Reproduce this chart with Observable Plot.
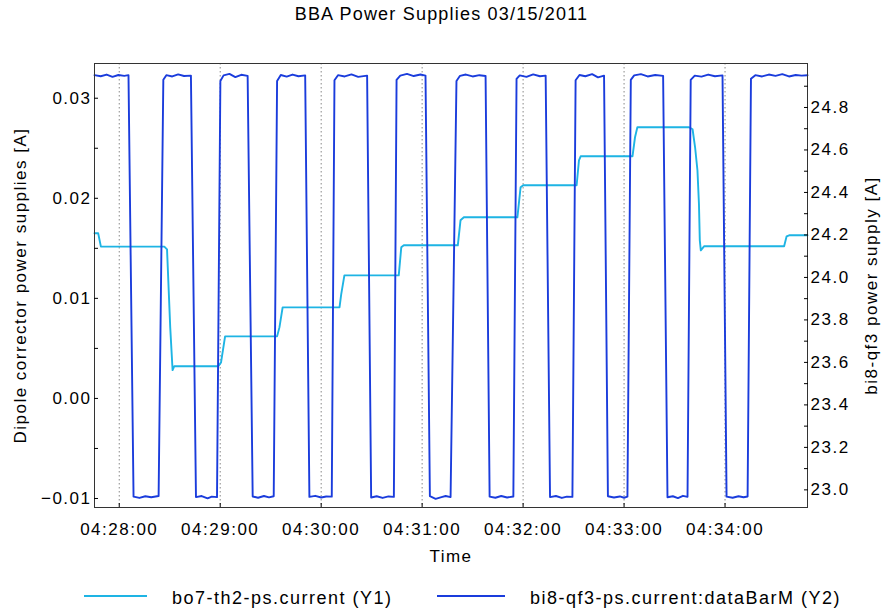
<!DOCTYPE html>
<html><head><meta charset="utf-8">
<script src="https://cdn.jsdelivr.net/npm/d3@7"></script>
<script src="https://cdn.jsdelivr.net/npm/@observablehq/plot@0.6"></script>
<style>
body{margin:0;background:#fff;font-family:"Liberation Sans",Arial,sans-serif;color:#000;}
#wrap{position:relative;width:883px;height:613px;overflow:hidden;}
#title{position:absolute;top:4px;left:0;width:883px;text-align:center;font-size:18px;letter-spacing:1.2px;line-height:20px;}
#chart{position:absolute;top:0;left:0;}
#chart svg text{letter-spacing:1.5px;}
.leg{position:absolute;top:588px;font-size:18px;letter-spacing:1.5px;line-height:20px;white-space:nowrap;}
.sw{position:absolute;height:2px;top:595px;}
</style></head>
<body>
<div id="wrap">
  <div id="title">BBA Power Supplies 03/15/2011</div>
  <div id="chart"></div>
  <div class="sw" style="left:84px;width:63px;background:#1eb4e4"></div>
  <div class="leg" style="left:172px">bo7-th2-ps.current (Y1)</div>
  <div class="sw" style="left:437px;width:68px;background:#1a3cdc"></div>
  <div class="leg" style="left:530px">bi8-qf3-ps.current:dataBarM (Y2)</div>
</div>
<script>
// ---- data ----
const xTickTimes = ["04:28:00","04:29:00","04:30:00","04:31:00","04:32:00","04:33:00","04:34:00"];
const y1Ticks = [-0.01, 0.00, 0.01, 0.02, 0.03];
const y1Minor = [-0.005, 0.005, 0.015, 0.025];
const y2Ticks = [23.0, 23.2, 23.4, 23.6, 23.8, 24.0, 24.2, 24.4, 24.6, 24.8];
const y2Minor = [23.1, 23.3, 23.5, 23.7, 23.9, 24.1, 24.3, 24.5, 24.7, 24.9];
const y1Domain = [-0.0109, 0.03347];
const y2Domain = [22.917, 25.007];
const xDomain = ["04:27:45.3", "04:34:49.0"];

const th2Times = ["04:27:45.3","04:27:47.5","04:27:49.1","04:28:26.8","04:28:28.4","04:28:30.3","04:28:31.7","04:28:32.7","04:28:58.9","04:29:00.5","04:29:02.9","04:29:04.4","04:29:33.8","04:29:35.2","04:29:37.1","04:30:10.9","04:30:11.9","04:30:13.8","04:30:46.1","04:30:47.6","04:30:49.1","04:31:21.2","04:31:22.8","04:31:24.8","04:31:56.6","04:31:58.5","04:32:00.1","04:32:31.8","04:32:33.2","04:32:34.2","04:33:05.0","04:33:06.5","04:33:07.9","04:33:38.6","04:33:40.7","04:33:42.2","04:33:43.6","04:33:44.5","04:33:45.0","04:33:45.6","04:33:47.5","04:34:35.1","04:34:36.6","04:34:38.1","04:34:49.0"];
const th2Values = [0.0165,0.0165,0.01517,0.01517,0.0149,0.0071,0.00283,0.00322,0.00322,0.0036,0.0062,0.0062,0.0062,0.0071,0.0091,0.0091,0.0104,0.0123,0.0123,0.0151,0.0153,0.0153,0.0178,0.0181,0.0181,0.0211,0.0213,0.0213,0.0238,0.0242,0.0242,0.0261,0.0271,0.0271,0.0269,0.0251,0.0228,0.0194,0.0158,0.0148,0.0152,0.0152,0.0162,0.0163,0.0163];

const qf3Times = ["04:27:45.3","04:27:49.0","04:27:52.5","04:27:56.0","04:27:59.5","04:28:03.0","04:28:05.5","04:28:08.5","04:28:12.0","04:28:15.5","04:28:19.0","04:28:23.4","04:28:26.2","04:28:28.0","04:28:31.5","04:28:35.0","04:28:38.5","04:28:42.6","04:28:45.6","04:28:49.0","04:28:52.5","04:28:55.0","04:28:58.1","04:29:00.1","04:29:02.0","04:29:05.5","04:29:09.0","04:29:12.5","04:29:16.3","04:29:19.3","04:29:22.5","04:29:26.0","04:29:29.0","04:29:31.8","04:29:33.8","04:29:36.0","04:29:39.5","04:29:43.0","04:29:46.5","04:29:50.5","04:29:53.0","04:29:56.5","04:30:00.0","04:30:03.0","04:30:06.3","04:30:07.9","04:30:10.0","04:30:14.0","04:30:18.0","04:30:22.0","04:30:27.3","04:30:29.7","04:30:33.0","04:30:36.5","04:30:40.0","04:30:43.2","04:30:44.8","04:30:47.0","04:30:51.0","04:30:55.0","04:30:59.0","04:31:02.0","04:31:04.6","04:31:08.0","04:31:11.5","04:31:14.0","04:31:16.9","04:31:20.4","04:31:22.5","04:31:26.0","04:31:30.0","04:31:34.0","04:31:37.7","04:31:40.1","04:31:43.5","04:31:47.0","04:31:50.5","04:31:54.2","04:31:56.1","04:31:58.0","04:32:02.0","04:32:06.0","04:32:10.0","04:32:13.4","04:32:16.0","04:32:19.5","04:32:23.0","04:32:26.0","04:32:29.3","04:32:31.2","04:32:33.5","04:32:37.0","04:32:41.0","04:32:44.5","04:32:48.1","04:32:50.4","04:32:54.0","04:32:57.5","04:33:00.0","04:33:02.0","04:33:04.0","04:33:06.0","04:33:10.0","04:33:14.0","04:33:18.5","04:33:23.2","04:33:25.8","04:33:29.0","04:33:32.0","04:33:35.0","04:33:37.7","04:33:39.6","04:33:42.0","04:33:46.0","04:33:50.0","04:33:54.0","04:33:58.5","04:34:00.9","04:34:04.5","04:34:08.0","04:34:11.0","04:34:13.4","04:34:15.4","04:34:18.0","04:34:22.0","04:34:26.0","04:34:30.0","04:34:34.0","04:34:38.0","04:34:42.0","04:34:45.5","04:34:49.0"];
const qf3Values = [24.952,24.947,24.955,24.944,24.953,24.949,24.952,22.968,22.962,22.970,22.965,22.971,24.930,24.952,24.946,24.956,24.948,24.950,22.966,22.971,22.960,22.968,22.966,24.925,24.951,24.958,24.943,24.954,24.949,22.969,22.963,22.971,22.965,22.970,24.925,24.953,24.945,24.955,24.947,24.951,22.967,22.972,22.964,22.969,22.968,24.928,24.952,24.946,24.956,24.944,24.950,22.964,22.970,22.962,22.969,22.967,24.930,24.950,24.958,24.948,24.955,24.950,22.970,22.958,22.966,22.971,22.966,24.925,24.949,24.955,24.946,24.952,24.948,22.968,22.963,22.971,22.964,22.969,24.935,24.951,24.944,24.956,24.947,24.950,22.966,22.971,22.962,22.968,22.967,24.928,24.953,24.947,24.957,24.942,24.950,22.970,22.964,22.969,22.963,22.968,24.930,24.951,24.957,24.946,24.953,24.949,22.965,22.970,22.961,22.972,22.967,24.930,24.950,24.945,24.955,24.947,24.951,22.968,22.963,22.970,22.965,22.969,24.935,24.952,24.946,24.955,24.949,24.957,24.946,24.953,24.950,24.952];

// ---- helpers ----
function tt(s) {
  const [h, m, sec] = s.split(":").map(Number);
  return new Date(new Date(2011, 2, 15, h, m, 0, 0).getTime() + sec * 1000);
}
const toY1 = d3.scaleLinear().domain(y2Domain).range(y1Domain);
const th2 = th2Times.map((t, i) => ({t: tt(t), v: th2Values[i]}));
const qf3 = qf3Times.map((t, i) => ({t: tt(t), v: toY1(qf3Values[i])}));
const xTicks = xTickTimes.map(tt);

const chart = Plot.plot({
  width: 883, height: 575,
  marginTop: 63, marginBottom: 68, marginLeft: 94, marginRight: 76,
  style: {fontFamily: "Liberation Sans, Arial, sans-serif", fontSize: "17px", color: "#000", background: "transparent"},
  x: {type: "time", domain: xDomain.map(tt)},
  y: {domain: y1Domain},
  marks: [
    Plot.ruleX(xTicks, {stroke: "#888", strokeDasharray: "1.5,2.5", strokeWidth: 1}),
    Plot.line(th2, {x: "t", y: "v", stroke: "#1eb4e4", strokeWidth: 1.9}),
    Plot.line(qf3, {x: "t", y: "v", stroke: "#1a3cdc", strokeWidth: 1.9}),
    Plot.frame({stroke: "#333"}),
    Plot.axisX(xTicks, {tickSize: -4, tickPadding: 19, tickFormat: d3.timeFormat("%H:%M:%S"),
      label: "Time", labelAnchor: "center", labelOffset: 54, labelArrow: "none", fontSize: 17}),
    Plot.axisY(y1Ticks, {anchor: "left", tickSize: -4, tickPadding: 7, tickFormat: d3.format(".2f"),
      label: "Dipole corrector power supplies [A]", labelAnchor: "center", labelOffset: 81, labelArrow: "none"}),
    Plot.axisY(y1Minor, {anchor: "left", tickSize: -4, tickFormat: () => "", label: null}),
    Plot.axisY(y2Ticks.map(toY1), {anchor: "right", tickSize: -4, tickPadding: 7,
      tickFormat: d => d3.format(".1f")(toY1.invert(d)),
      label: "bi8-qf3 power supply [A]", labelAnchor: "center", labelOffset: 69, labelArrow: "none"}),
    Plot.axisY(y2Minor.map(toY1), {anchor: "right", tickSize: -4, tickFormat: () => "", label: null})
  ]
});
document.getElementById("chart").appendChild(chart);
</script>
</body></html>
